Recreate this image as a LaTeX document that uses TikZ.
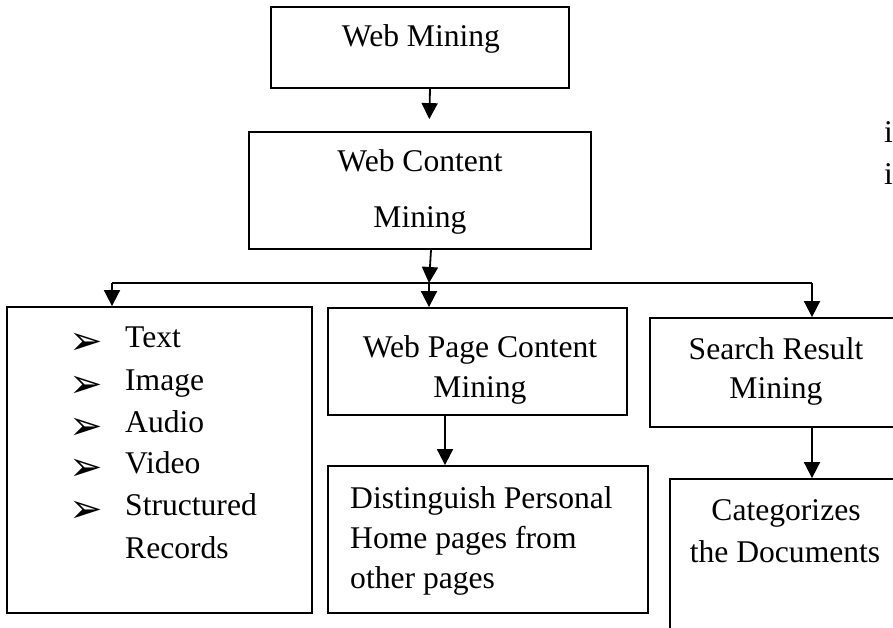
\documentclass[tikz,border=0pt]{standalone}
\usepackage{fontspec}
\setmainfont{Liberation Serif}
\newfontfamily\symfont{DejaVu Sans}
\usetikzlibrary{arrows.meta}
\begin{document}
\begin{tikzpicture}[x=1pt,y=-1pt,
  box/.style={draw, line width=1.8pt, inner sep=0pt, minimum width=#1},
  arr/.style={line width=1.8pt, -{Triangle[length=16pt,width=16pt]}},
  txt/.style={inner sep=0pt, anchor=base, font=\fontsize{31.6}{42}\selectfont},
  txtl/.style={txt, anchor=base west},
  bul/.style={inner sep=0pt, anchor=center, font=\symfont\fontsize{40}{40}\selectfont}]
\clip (0,0) rectangle (893,628);
\fill[white] (0,0) rectangle (893,628);

% boxes
\node[box=298pt, minimum height=81pt]  (wm)   at (420,47.5)    {};
\node[box=342pt, minimum height=117pt] (wcm)  at (420,190.5)   {};
\node[box=305pt, minimum height=306pt] (list) at (159.5,460)   {};
\node[box=299pt, minimum height=107pt] (wpcm) at (477.5,361.5) {};
\node[box=320pt, minimum height=147pt] (dist) at (488,539.5)   {};
\node[box=255pt, minimum height=109pt] (srm)  at (777.5,372.5) {};
\node[box=235pt, minimum height=166pt] (cat)  at (787.5,562)   {};

% labels
\node[txt] (wmt) at (421,47) {Web Mining};
\node[txt] (wcm1) at (420,172) {Web Content};
\node[txt] (wcm2) at (420,227) {Mining};
\node[txt] (wp1) at (480,357) {Web Page Content};
\node[txt] (wp2) at (480,397) {Mining};
\node[txt] (sr1) at (776,359) {Search Result};
\node[txt] (sr2) at (776,398) {Mining};
\node[txt] (ct1) at (786,520) {Categorizes};
\node[txt] (ct2) at (785,562) {the Documents};
\node[txtl] (ds1) at (350,508) {Distinguish Personal};
\node[txtl] (ds2) at (350,548) {Home pages from};
\node[txtl] (ds3) at (350,588) {other pages};
\node[txtl] (ia) at (884,143) {i};
\node[txtl] (ib) at (884,185) {i};

% bulleted list
\foreach \n/\y/\w in {l1/347/Text, l2/390/Image, l3/432/Audio, l4/473/Video, l5/515/Structured}{
  \node[bul] (b\n) at (86,\y-3) {➢};
  \node[txtl] (\n) at (125,\y) {\w};
}
\node[txtl] (l6) at (125,558) {Records};

% connectors
\coordinate (busL) at (112,283);
\coordinate (busM) at (429,283);
\coordinate (busR) at (812,283);
\draw[line width=1.8pt] (busL) -- (busR);
\draw[arr, shorten >=12pt] ([xshift=10pt]wm.south) -- ([xshift=9pt]wcm.north);
\draw[arr] ([xshift=11pt]wcm.south) -- (busM);
\draw[arr] (busL) -- (busL |- list.north);
\draw[arr] (busM) -- (busM |- wpcm.north);
\draw[arr] (busR) -- (busR |- srm.north);
\draw[arr] ([xshift=-32.5pt]wpcm.south) -- ([xshift=-32.5pt]wpcm.south |- dist.north);
\draw[arr] (srm.south -| busR) -- (cat.north -| busR);
\end{tikzpicture}
\end{document}
